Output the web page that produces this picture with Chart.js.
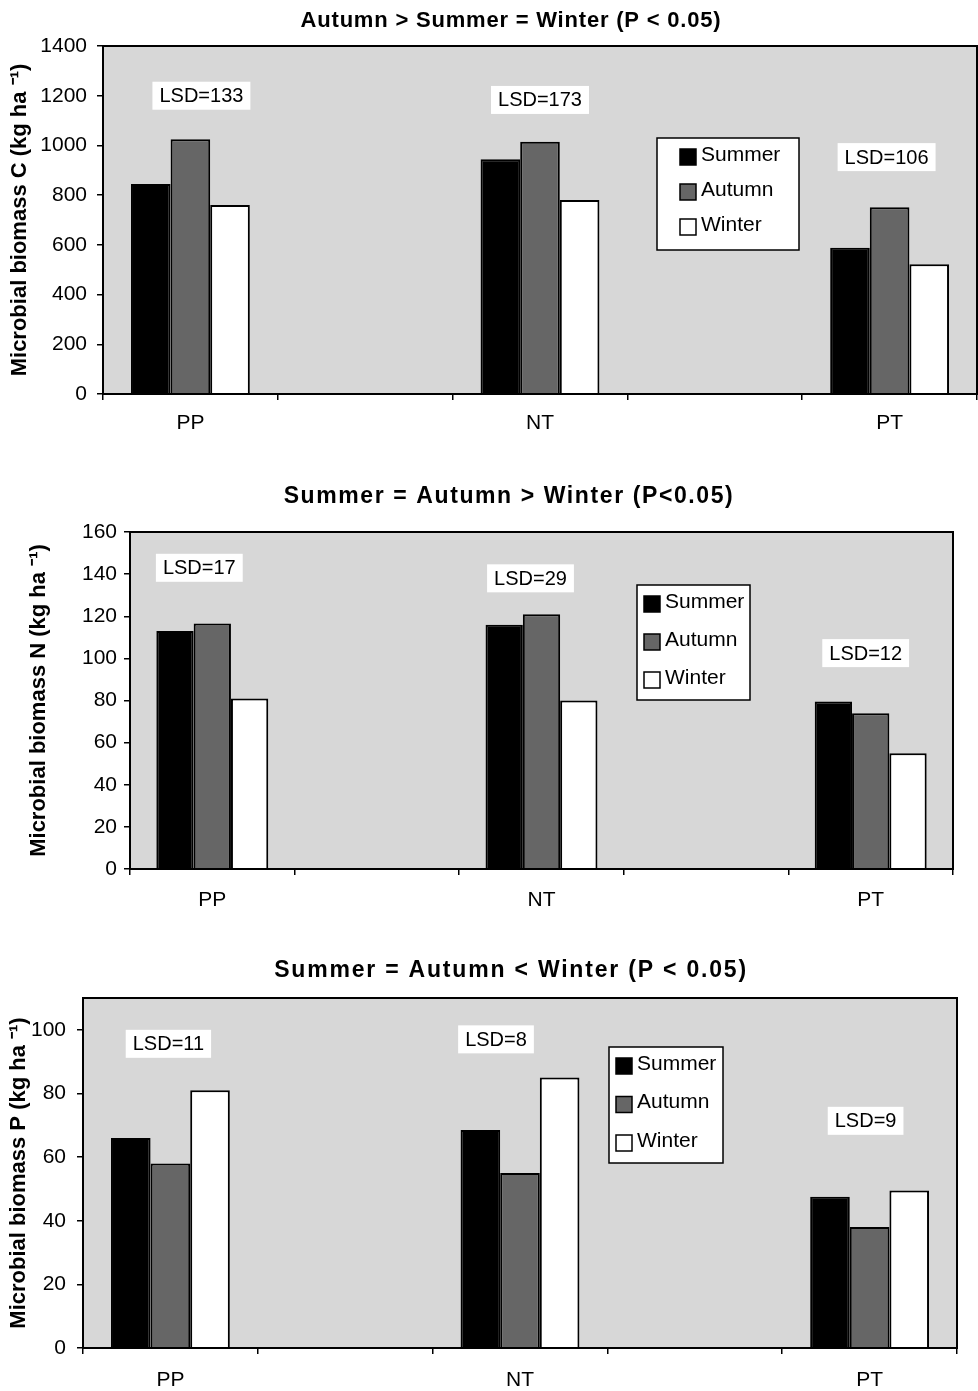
<!DOCTYPE html>
<html>
<head>
<meta charset="utf-8">
<script src="https://cdn.jsdelivr.net/npm/chart.js@4"></script>
<style>
  body { margin: 0; background: #fff; }
  .panel { position: absolute; left: 0; }
</style>
</head>
<body>
<div class="panel" style="top:0"><canvas id="chartC" width="978" height="450"></canvas></div>
<div class="panel" style="top:460px"><canvas id="chartN" width="978" height="460"></canvas></div>
<div class="panel" style="top:930px"><canvas id="chartP" width="978" height="461"></canvas></div>
<script>
// Tillage systems (gaps between them are empty slots on the axis)
var sites = ['PP', '', 'NT', '', 'PT'];
var seasons = ['Summer', 'Autumn', 'Winter'];
var seasonColors = ['#000000', '#666666', '#ffffff'];

// Microbial biomass C (kg/ha)
var cSummer = [845, null, 944, null, 588];
var cAutumn = [1025, null, 1015, null, 751];
var cWinter = [760, null, 780, null, 522];
var cLsd = [133, 173, 106];

// Microbial biomass N (kg/ha)
var nSummer = [113, null, 116, null, 79.5];
var nAutumn = [116.5, null, 121, null, 74];
var nWinter = [81, null, 80, null, 55];
var nLsd = [17, 29, 12];

// Microbial biomass P (kg/ha)
var pSummer = [66, null, 68.5, null, 47.5];
var pAutumn = [58, null, 55, null, 38];
var pWinter = [81, null, 85, null, 49.5];
var pLsd = [11, 8, 9];

var FONT = '"Liberation Sans", Arial, sans-serif';

// background, frame, title, LSD boxes and the legend box
var paperPlugin = {
    id: 'paper',
    beforeDraw: function (chart, args, o) {
        var ctx = chart.ctx, a = chart.chartArea;
        ctx.save();
        ctx.fillStyle = '#d7d7d7';
        ctx.fillRect(a.left, a.top, a.right - a.left, a.bottom - a.top);
        ctx.restore();
    },
    afterDatasetsDraw: function (chart, args, o) {
        var ctx = chart.ctx, a = chart.chartArea;
        var xs = chart.scales.x, ys = chart.scales.y;
        ctx.save();
        ctx.strokeStyle = '#000';
        ctx.lineWidth = 2;
        ctx.strokeRect(a.left, a.top, a.right - a.left, a.bottom - a.top);

        // title
        ctx.fillStyle = '#000';
        ctx.font = 'bold ' + o.titleSize + 'px ' + FONT;
        ctx.letterSpacing = o.titleSpacing + 'px';
        ctx.textAlign = 'center';
        ctx.textBaseline = 'alphabetic';
        ctx.fillText(o.title, o.titleX, o.titleY);
        ctx.letterSpacing = '0px';

        // LSD labels
        ctx.font = '20px ' + FONT;
        ctx.textBaseline = 'middle';
        o.lsd.forEach(function (v, i) {
            var p = o.lsdPos[i];
            var txt = 'LSD=' + v;
            var cx = xs.getPixelForValue(i * 2) + p.dx;
            var cy = ys.getPixelForValue(p.y);
            var w = ctx.measureText(txt).width + 14;
            ctx.fillStyle = '#fff';
            ctx.fillRect(cx - w / 2, cy - 14, w, 28);
            ctx.fillStyle = '#000';
            ctx.fillText(txt, cx, cy + 1);
        });

        // legend
        var L = o.legend;
        ctx.fillStyle = '#fff';
        ctx.fillRect(L.x, L.y, L.w, L.h);
        ctx.lineWidth = 1.5;
        ctx.strokeRect(L.x, L.y, L.w, L.h);
        ctx.textAlign = 'left';
        ctx.font = '21px ' + FONT;
        chart.data.datasets.forEach(function (ds, i) {
            var cy = L.y + L.first + i * L.step;
            ctx.fillStyle = ds.backgroundColor;
            ctx.fillRect(L.x + L.pad, cy - 8, 16, 16);
            ctx.lineWidth = 1.5;
            ctx.strokeStyle = '#000';
            ctx.strokeRect(L.x + L.pad, cy - 8, 16, 16);
            ctx.fillStyle = '#000';
            ctx.fillText(ds.label, L.x + L.pad + 21, cy - 2);
        });
        ctx.restore();
    }
};

function makeChart(id, series, cfg) {
    var datasets = seasons.map(function (s, i) {
        return {
            label: s,
            data: series[i],
            backgroundColor: seasonColors[i],
            borderColor: '#000',
            borderWidth: 2,
            borderSkipped: 'start',
            barPercentage: 1,
            categoryPercentage: 0.68
        };
    });
    return new Chart(document.getElementById(id), {
        type: 'bar',
        data: { labels: sites, datasets: datasets },
        plugins: [paperPlugin],
        options: {
            responsive: false,
            animation: false,
            devicePixelRatio: 1,
            layout: { padding: cfg.padding },
            plugins: {
                legend: { display: false },
                tooltip: { enabled: false },
                paper: cfg.paper
            },
            scales: {
                x: {
                    ticks: { color: '#000', font: { family: FONT, size: 21 }, padding: cfg.xPad, autoSkip: false, maxRotation: 0 },
                    grid: { drawOnChartArea: false, color: '#000', lineWidth: 1.5, tickLength: 6, offset: true },
                    border: { color: '#000', width: 2 },
                    afterFit: function (s) { s.height = 40; }
                },
                y: {
                    min: 0,
                    max: cfg.yMax,
                    ticks: {
                        stepSize: cfg.step, color: '#000', font: { family: FONT, size: 21 }, padding: cfg.yPad,
                        callback: function (v) { return String(v); }
                    },
                    afterBuildTicks: function (s) {
                        s.ticks = s.ticks.filter(function (t) { return t.value % cfg.step === 0; });
                    },
                    grid: { drawOnChartArea: false, color: '#000', lineWidth: 1.5, tickLength: 6 },
                    border: { color: '#000', width: 2 },
                    title: { display: true, text: cfg.yTitle, color: '#000', font: { family: FONT, size: 22, weight: 'bold' }, padding: { top: cfg.yTitlePad } },
                    afterFit: function (s) { s.width = cfg.yWidth; }
                }
            }
        }
    });
}

makeChart('chartC', [cSummer, cAutumn, cWinter], {
    padding: { top: 46, right: 1, left: 0, bottom: 16 },
    yWidth: 103, yMax: 1400, step: 200, yPad: 10, xPad: 11, yTitlePad: 7,
    yTitle: 'Microbial biomass C (kg ha \u207B\u00B9)',
    paper: {
        title: 'Autumn > Summer = Winter (P < 0.05)', titleSize: 22, titleSpacing: 0.8, titleX: 511, titleY: 27,
        lsd: cLsd,
        lsdPos: [{ dx: 11, y: 1200 }, { dx: 0, y: 1183 }, { dx: -3, y: 953 }],
        legend: { x: 657, y: 138, w: 142, h: 112, pad: 23, first: 19, step: 35 }
    }
});

makeChart('chartN', [nSummer, nAutumn, nWinter], {
    padding: { top: 72, right: 25, left: 0, bottom: 11 },
    yWidth: 130, yMax: 160, step: 20, yPad: 7, xPad: 13, yTitlePad: 26,
    yTitle: 'Microbial biomass N (kg ha \u207B\u00B9)',
    paper: {
        title: 'Summer = Autumn > Winter (P<0.05)', titleSize: 23, titleSpacing: 1.6, titleX: 509, titleY: 43,
        lsd: nLsd,
        lsdPos: [{ dx: -13, y: 143 }, { dx: -11, y: 138 }, { dx: -5, y: 102.5 }],
        legend: { x: 637, y: 125, w: 113, h: 115, pad: 7, first: 19, step: 38 }
    }
});

makeChart('chartP', [pSummer, pAutumn, pWinter], {
    padding: { top: 68, right: 21, left: 0, bottom: 3 },
    yWidth: 83, yMax: 110, step: 20, yPad: 11, xPad: 14, yTitlePad: 6,
    yTitle: 'Microbial biomass P (kg ha \u207B\u00B9)',
    paper: {
        title: 'Summer = Autumn < Winter (P < 0.05)', titleSize: 23, titleSpacing: 1.8, titleX: 511, titleY: 47,
        lsd: pLsd,
        lsdPos: [{ dx: -2, y: 95.6 }, { dx: -24, y: 97 }, { dx: -4, y: 71.4 }],
        legend: { x: 609, y: 117, w: 114, h: 116, pad: 7, first: 19, step: 38.5 }
    }
});
</script>
</body>
</html>
